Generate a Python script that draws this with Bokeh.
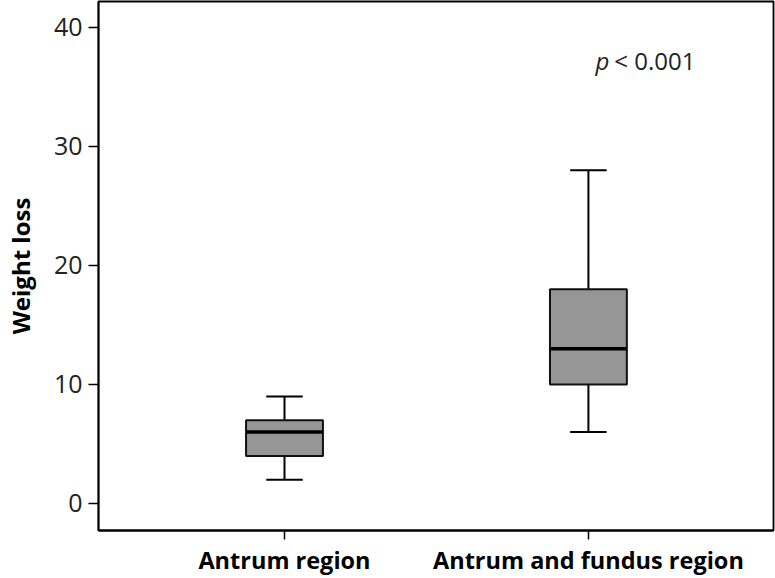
from bokeh.plotting import figure
from bokeh.models import ColumnDataSource, Range1d, FixedTicker, Label
from bokeh.embed import file_html
from bokeh.resources import INLINE

# Data
categories = ["Antrum region", "Antrum and fundus region"]
positions = [1, 2]
lower_whisker = [2, 6]
q1 = [4, 10]
median = [6, 13]
q3 = [7, 18]
upper_whisker = [9, 28]
y_ticks = [0, 10, 20, 30, 40]

FONT = "Open Sans"
box_w = 0.253
cap_w = 0.12

src = ColumnDataSource(dict(
    x=positions,
    left=[p - box_w / 2 for p in positions],
    right=[p + box_w / 2 for p in positions],
    cap_l=[p - cap_w / 2 for p in positions],
    cap_r=[p + cap_w / 2 for p in positions],
    lw=lower_whisker, q1=q1, med=median, q3=q3, uw=upper_whisker,
))

p = figure(width=775, height=578, output_backend="svg", toolbar_location=None,
           x_range=Range1d(0.388, 2.609), y_range=Range1d(-2.27, 42.18),
           min_border_left=98, min_border_right=2, min_border_top=1, min_border_bottom=48)

p.grid.visible = False
p.outline_line_color = "black"
p.outline_line_width = 1.8
p.background_fill_color = "white"
p.border_fill_color = "white"

# whiskers
p.segment(x0="x", y0="q3", x1="x", y1="uw", source=src, line_color="black", line_width=2)
p.segment(x0="x", y0="lw", x1="x", y1="q1", source=src, line_color="black", line_width=2)
p.segment(x0="cap_l", y0="uw", x1="cap_r", y1="uw", source=src, line_color="black", line_width=2)
p.segment(x0="cap_l", y0="lw", x1="cap_r", y1="lw", source=src, line_color="black", line_width=2)
# boxes
p.quad(left="left", right="right", bottom="q1", top="q3", source=src,
       fill_color="#969696", line_color="#111111", line_width=2)
# medians
p.segment(x0="left", y0="med", x1="right", y1="med", source=src, line_color="black", line_width=3.5)

# axes
p.xaxis.ticker = FixedTicker(ticks=positions)
p.xaxis.major_label_overrides = {pos: c for pos, c in zip(positions, categories)}
p.xaxis.minor_tick_line_color = None
p.xaxis.major_tick_out = 9
p.xaxis.major_tick_in = 0
p.xaxis.major_label_standoff = 4
p.xaxis.major_label_text_font = FONT
p.xaxis.major_label_text_font_style = "bold"
p.xaxis.major_label_text_font_size = "23.5px"
p.xaxis.major_label_text_color = "black"
p.xaxis.axis_line_color = "black"
p.xaxis.axis_line_width = 1.8
p.xaxis.major_tick_line_color = "black"
p.xaxis.major_tick_line_width = 1.5

p.yaxis.ticker = FixedTicker(ticks=y_ticks)
p.yaxis.minor_tick_line_color = None
p.yaxis.major_tick_out = 10
p.yaxis.major_tick_in = 0
p.yaxis.major_label_standoff = 6
p.yaxis.major_label_text_font = FONT
p.yaxis.major_label_text_font_size = "25px"
p.yaxis.major_label_text_color = "#222222"
p.yaxis.axis_line_color = "black"
p.yaxis.axis_line_width = 1.8
p.yaxis.major_tick_line_color = "black"
p.yaxis.major_tick_line_width = 1.5
p.yaxis.axis_label = "Weight loss"
p.yaxis.axis_label_text_font = FONT
p.yaxis.axis_label_text_font_style = "bold"
p.yaxis.axis_label_text_font_size = "24px"
p.yaxis.axis_label_standoff = 14
p.yaxis.axis_label_text_color = "black"

p.add_layout(Label(x=2.023, y=37.2, text="p", text_font=FONT, text_font_style="italic",
                   text_font_size="24px", text_baseline="middle", text_color="#222222"))
p.add_layout(Label(x=2.085, y=37.2, text="< 0.001", text_font=FONT,
                   text_font_size="24px", text_baseline="middle", text_color="#222222"))

open("out.html", "w").write(file_html(p, INLINE))
